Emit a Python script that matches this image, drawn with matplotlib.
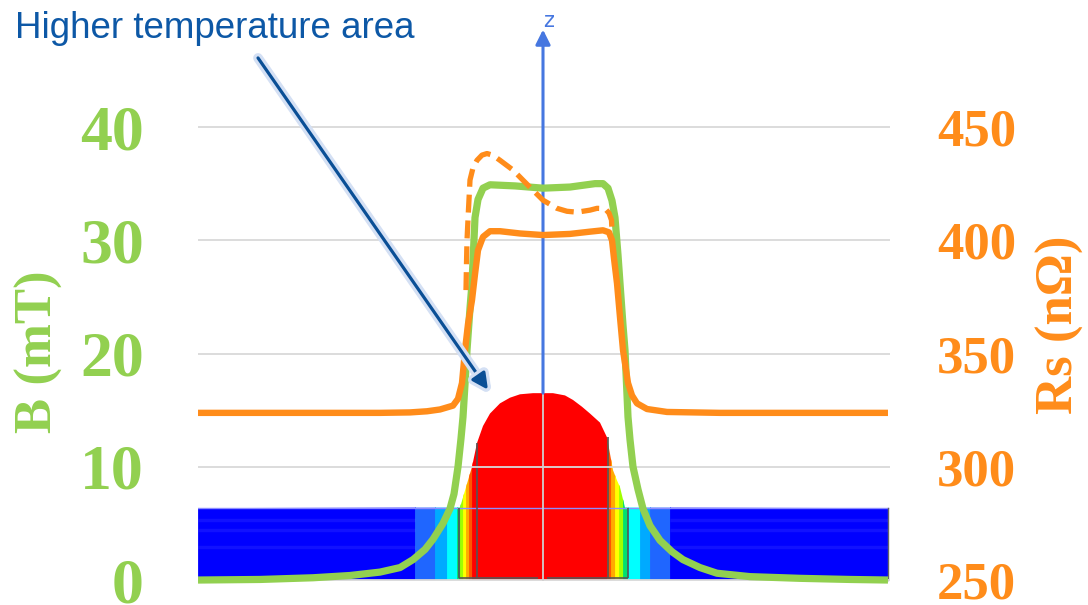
import numpy as np
import matplotlib.pyplot as plt
from matplotlib.patches import Polygon
import matplotlib.patheffects as pe

# position along z (offset from the cavity axis), arbitrary units
green_z = [-345, -283, -230, -193, -163, -143, -130, -118, -110, -100, -93, -89, -85, -82, -80, -78,
           -76, -73, -71, -68, -65, -60, -53, -28, 0, 27, 52, 60, 65, 69, 72, 75, 77, 80, 82, 85,
           87, 90, 95, 100, 107, 117, 129, 140, 157, 174, 207, 257, 307, 345]
green_B = [0.0, 0.05, 0.2, 0.4, 0.7, 1.1, 1.8, 2.7, 3.6, 5.0, 6.3, 7.6, 10.0, 12.5, 14.4, 17.3,
           20.3, 24.0, 26.2, 32.0, 33.6, 34.6, 34.9, 34.8, 34.6, 34.7, 35.0, 35.0, 34.6, 33.5, 32.0,
           28.7, 26.2, 22.5, 20.3, 14.4, 12.4, 10.0, 8.0, 6.3, 4.8, 3.5, 2.5, 1.8, 1.1, 0.6, 0.3,
           0.15, 0.05, 0.0]

rs_z = [-345, -163, -133, -116, -103, -90, -85, -81, -78, -75, -71, -68, -65, -60, -53, -43, -23,
        0, 27, 47, 60, 66, 69, 71, 74, 77, 80, 85, 89, 94, 104, 124, 177, 345]
rs_val = [323.8, 323.8, 324.0, 324.5, 325.3, 327.0, 330.0, 337.0, 351.5, 363.0, 373.6, 385.0,
          395.6, 401.5, 404.0, 404.0, 403.0, 402.3, 402.8, 403.8, 404.4, 403.5, 400.0, 392.0,
          381.0, 366.0, 351.5, 337.0, 331.5, 328.0, 325.5, 324.2, 323.8, 323.8]

rs_dash_z = [-77, -76.5, -76, -74.7, -73, -70, -66, -61, -56, -50, -43, -30, -13, 0, 14, 24, 34,
             47, 54, 62, 66, 68.5, 69]
rs_dash_val = [378, 390, 400, 412, 426.6, 432, 435.3, 437.6, 438.3, 437.5, 435.3, 431.0, 423.4,
               417.7, 414.1, 412.8, 412.4, 413.3, 414.1, 414.0, 412.0, 408.9, 404.4]

# hot region outline of the temperature map (in B units of the left axis)
dome_z = [-83, -79, -76, -71, -66, -60, -53, -43, -33, -23, -10, 10, 22, 30, 39, 47, 57, 64, 70,
          74, 77, 82]
dome_top = [6.4, 7.6, 8.5, 10.0, 12.1, 13.6, 14.7, 15.6, 16.1, 16.4, 16.5, 16.5, 16.3, 15.9, 15.3,
            14.7, 13.9, 12.6, 9.7, 8.8, 8.2, 6.4]
wall_top = 6.35
streaks = [2.9, 4.4, 5.3]

band_edges = [-345, -128, -108, -96, -86, -83, -80, -77, -74, -71, 64, 68, 72, 76, 80, 85, 97,
              107, 127, 345]
band_colors = ['#0000ff', '#1f66ff', '#00aaff', '#00ffff', '#00e070', '#a0ff00', '#ffff00',
               '#ffaa00', '#ff5500', '#ff0000', '#ff5500', '#ffaa00', '#ffff00', '#a0ff00',
               '#00e070', '#00ffff', '#00aaff', '#1f66ff', '#0000ff']

b_ticks = [0, 10, 20, 30, 40]
rs_ticks = [250, 300, 350, 400, 450]

green = '#92d050'
orange = '#ff8c1a'
note_blue = '#0d58a6'
axis_blue = '#4677e0'

plt.rcParams['font.family'] = 'Liberation Serif'
plt.rcParams['font.weight'] = 'bold'

fig = plt.figure(figsize=(10.88, 6.05), dpi=100)
ax = fig.add_axes([0.182, 0.0132, 0.636, 0.8143])
ax.set_xlim(-345, 347)
ax.set_ylim(-1.5, 42)

# temperature map: colour bands clipped to the wall + hot dome outline
clip_x = [-345, -345] + dome_z + [345, 345]
clip_y = [0, wall_top] + dome_top + [wall_top, 0]
clip = Polygon(np.column_stack([clip_x, clip_y]), closed=True, transform=ax.transData)
for x0, x1, c in zip(band_edges[:-1], band_edges[1:], band_colors):
    f = ax.fill_between([x0, x1], 0, 17, color=c, lw=0.6, edgecolor=c, zorder=2)
    f.set_clip_path(clip)
# faint lighter streaks in the cold (blue) parts of the wall
ax.hlines(streaks, band_edges[0], band_edges[1], color='white', alpha=0.07, lw=2.5, zorder=2.2)
ax.hlines(streaks, band_edges[-2], band_edges[-1], color='white', alpha=0.07, lw=2.5, zorder=2.2)
ax.plot([-345, 345], [wall_top, wall_top], color='#8c8cff', lw=1, zorder=2.5)
ax.plot([345, 345], [0, wall_top], color='#666666', lw=1, zorder=2.5)
ax.vlines([-84, 85], 0.2, 6.4, color='#555555', lw=1.2, zorder=2.6)
ax.vlines([-66, 65], 0.2, [12.1, 12.6], color='#555555', lw=1.2, zorder=2.6)
ax.hlines([0.2, 0.2], [-84, 4], [-5, 85], color='#555555', lw=1.2, zorder=2.6)

for t in b_ticks:
    ax.axhline(t, color='#d9d9d9', lw=1.3, zorder=3)
ax.plot([0, 0], [0, 16.5], color='#cfcfcf', lw=1.3, zorder=3)

# z axis arrow
ax.annotate('', xy=(0, 48.6), xytext=(0, 16.5), annotation_clip=False,
            arrowprops=dict(arrowstyle='-|>', color=axis_blue, lw=2.2, mutation_scale=22,
                            shrinkA=0, shrinkB=0), zorder=4)
ax.text(6, 49.4, 'z', color=axis_blue, fontsize=15, family='DejaVu Sans', weight='normal',
        ha='center', va='center', clip_on=False)

ax.plot(green_z, green_B, color=green, lw=5.2, zorder=5, solid_capstyle='butt')

ax2 = ax.twinx()
ax2.set_ylim(250 - 1.5 * 5, 250 + 42 * 5)
ax2.plot(rs_z, rs_val, color=orange, lw=4.6, zorder=6, solid_capstyle='butt')
ax2.plot(rs_dash_z, rs_dash_val, color=orange, lw=3.8, dashes=(3.4, 1.5), zorder=6)

ax.set_xticks([])
ax.set_yticks(b_ticks)
ax.set_yticklabels([str(t) for t in b_ticks])
ax.tick_params(axis='y', length=0, pad=39, labelsize=46, labelcolor=green)
ax2.set_yticks(rs_ticks)
ax2.set_yticklabels([str(t) for t in rs_ticks])
ax2.tick_params(axis='y', length=0, pad=34, labelsize=38, labelcolor=orange)
for a in (ax, ax2):
    for s in a.spines.values():
        s.set_visible(False)

fig.text(39 / 1088, 1 - 352 / 605, 'B (mT)', rotation=90, ha='center', va='center',
         fontsize=38, color=green, weight='bold')
fig.text(1060 / 1088, 1 - 325 / 605, 'Rs (nΩ)', rotation=90, ha='center', va='center',
         fontsize=38, color=orange, weight='bold')

# annotation
fig.text(15 / 1088, 1 - 38 / 605, 'Higher temperature area', ha='left', va='baseline',
         fontsize=26.5, color=note_blue, family='Liberation Sans', weight='normal')
ax2.annotate('', xy=(-55, 250 + 16.8 * 5), xytext=(-285, 250 + 46.1 * 5), annotation_clip=False,
             arrowprops=dict(arrowstyle='-|>', color='#0a4f96', lw=2.3, mutation_scale=24,
                             shrinkA=0, shrinkB=0,
                             path_effects=[pe.withStroke(linewidth=7, foreground='#d4e0f4')]),
             zorder=7)

fig.savefig('out.png', dpi=100)
